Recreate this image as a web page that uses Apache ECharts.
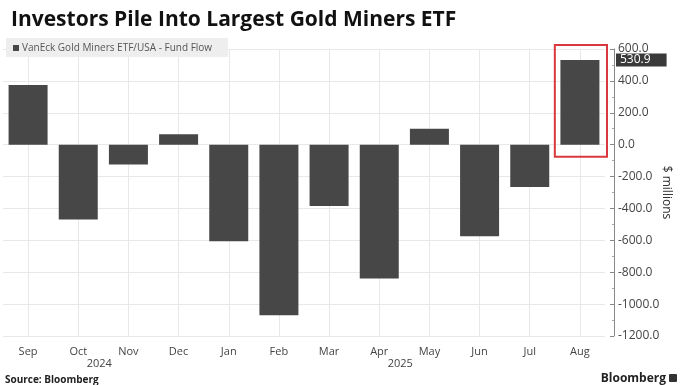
<!DOCTYPE html>
<html>
<head>
<meta charset="utf-8">
<script src="https://cdn.jsdelivr.net/npm/echarts@6/dist/echarts.min.js"></script>
<style>
  html, body { margin: 0; padding: 0; background: #fff; }
  #chart { width: 680px; height: 385px; }
</style>
</head>
<body>
<div id="chart"></div>
<script>
const months = ['Sep', 'Oct', 'Nov', 'Dec', 'Jan', 'Feb', 'Mar', 'Apr', 'May', 'Jun', 'Jul', 'Aug']
const fundFlow = [375, -470, -125, 65, -605, -1070, -385, -840, 100, -575, -265, 530.9]
const yearLabels = [
  { text: '2024', after: 'Oct' },
  { text: '2025', after: 'Apr' }
]
const lastValue = 530.9

const font = '"Open Sans", "Liberation Sans", sans-serif'

const chart = echarts.init(document.getElementById('chart'))

const option = {
  animation: false,
  title: {
    text: 'Investors Pile Into Largest Gold Miners ETF',
    left: 6,
    top: 5,
    textStyle: { fontFamily: '"Open Sans", sans-serif', fontWeight: 'bold', fontSize: 21, color: '#111' }
  },
  legend: {
    left: 6,
    top: 38,
    itemWidth: 6,
    itemHeight: 6,
    itemGap: 4,
    padding: [5, 16, 4, 7],
    backgroundColor: '#eeeeee',
    icon: 'rect',
    textStyle: { fontFamily: font, fontSize: 10, color: '#555', padding: [0, 0, 0, -2] },
    data: ['VanEck Gold Miners ETF/USA - Fund Flow']
  },
  grid: {
    left: 3,
    right: 75,
    top: 49,
    bottom: 49,
    outerBoundsMode: 'none'
  },
  xAxis: {
    type: 'category',
    data: months,
    axisLine: { show: false },
    axisTick: { show: false },
    axisLabel: { fontFamily: font, fontSize: 11, color: '#444', margin: 10 },
    splitLine: { show: true, alignWithLabel: true, lineStyle: { color: '#e8e8e8' } }
  },
  yAxis: {
    type: 'value',
    position: 'right',
    offset: 9,
    min: -1200,
    max: 600,
    interval: 200,
    name: '$ millions',
    nameLocation: 'middle',
    nameRotate: -90,
    nameGap: 46,
    nameMoveOverlap: false,
    nameTextStyle: { fontFamily: font, fontSize: 12, color: '#333' },
    axisLine: { show: true, lineStyle: { color: '#888' } },
    axisTick: { show: true, inside: true, length: 4, lineStyle: { color: '#888' } },
    minorTick: { show: true, splitNumber: 2, length: 2, lineStyle: { color: '#aaa' } },
    axisLabel: {
      fontFamily: font, fontSize: 12, color: '#444', margin: 4,
      formatter: v => v.toFixed(1)
    },
    splitLine: { lineStyle: { color: '#e8e8e8' } }
  },
  series: [
    {
      name: 'VanEck Gold Miners ETF/USA - Fund Flow',
      type: 'bar',
      data: fundFlow,
      barWidth: 39,
      itemStyle: { color: '#474747' },
      markLine: {
        silent: true,
        symbol: 'none',
        lineStyle: { color: 'transparent' },
        data: [{ yAxis: lastValue }],
        label: {
          show: true,
          position: 'end',
          distance: 11,
          formatter: p => p.value.toFixed(1),
          backgroundColor: '#3a3a3a',
          color: '#fff',
          fontFamily: font,
          fontSize: 12,
          padding: [1, 16, 0, 4]
        }
      }
    }
  ]
}

chart.setOption(option)

// annotations placed from the axes
const px = (cat, val) => chart.convertToPixel({ gridIndex: 0 }, [cat, val])
const band = px('Aug', 0)[0] - px('Jul', 0)[0]
const augPos = px('Aug', 0)
const boxTop = px('Aug', 600)[1]
const graphics = []
graphics.push({
  type: 'rect',
  shape: { x: augPos[0] - band * 0.5, y: boxTop - 4, width: band * 1.04, height: augPos[1] - boxTop + 16 },
  style: { fill: 'none', stroke: '#d9383e', lineWidth: 2 }
})
const axisBottom = px('Sep', -1200)[1]
yearLabels.forEach(y => {
  const i = months.indexOf(y.after)
  const x = (px(months[i], 0)[0] + px(months[i + 1], 0)[0]) / 2
  graphics.push({
    type: 'text',
    x: x - 4,
    y: axisBottom + 22,
    style: { text: y.text, fontFamily: font, fontSize: 11, fill: '#444', align: 'center' }
  })
})
graphics.push({
  type: 'text', left: 5, bottom: 0,
  style: { text: 'Source: Bloomberg', fontFamily: font, fontSize: 10, fontWeight: 'bold', fill: '#222' }
})
graphics.push({
  type: 'text', right: 14, bottom: 0,
  style: { text: 'Bloomberg', fontFamily: font, fontSize: 12, fontWeight: 'bold', fill: '#222' }
})
graphics.push({
  type: 'rect', right: 3, bottom: 3,
  shape: { width: 8, height: 8, r: 1 },
  style: { fill: '#333' }
})
chart.setOption({ graphic: graphics })
</script>
</body>
</html>
